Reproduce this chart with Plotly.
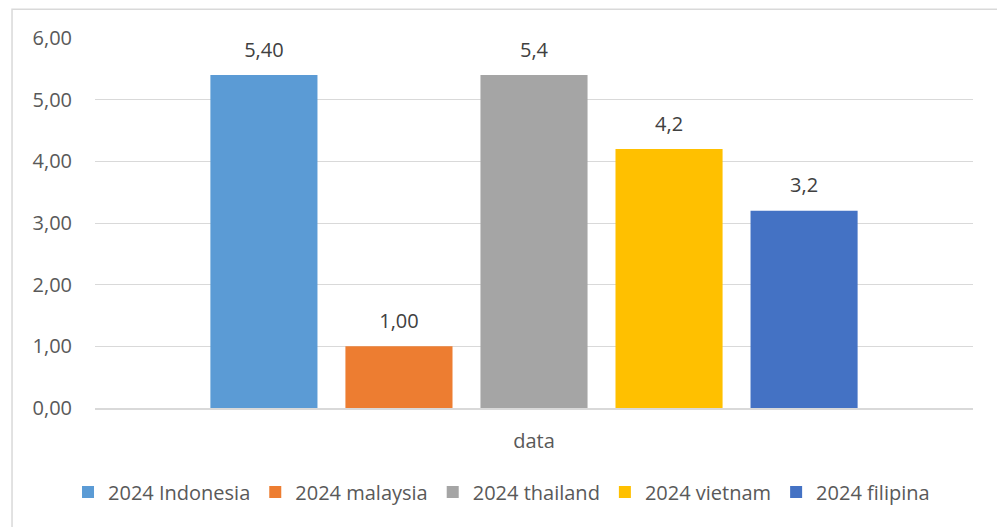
import plotly.graph_objects as go

categories = ["data"]
series_names = ["2024 Indonesia", "2024 malaysia", "2024 thailand", "2024 vietnam", "2024 filipina"]
series_values = [5.40, 1.00, 5.4, 4.2, 3.2]
value_labels = ["5,40", "1,00", "5,4", "4,2", "3,2"]
colors = ["#5B9BD5", "#ED7D31", "#A5A5A5", "#FFC000", "#4472C4"]
y_ticks = [0, 1, 2, 3, 4, 5, 6]

FONT = "'Open Sans', 'Noto Sans', sans-serif"
FS = 20

fig = go.Figure()
for name, val, col in zip(series_names, series_values, colors):
    fig.add_trace(go.Bar(
        x=categories, y=[val], name=name,
        marker=dict(color=col, line=dict(width=0)),
        offsetgroup=name,
        hoverinfo="name+y",
    ))
for name, val, lab in zip(series_names, series_values, value_labels):
    fig.add_trace(go.Scatter(
        x=categories, y=[val], mode="markers+text",
        text=[lab], textposition="top center",
        textfont=dict(size=FS, color="#404040", family=FONT),
        marker=dict(size=20, opacity=0),
        offsetgroup=name, showlegend=False, hoverinfo="skip",
        cliponaxis=False,
    ))

fig.update_layout(
    width=997, height=527,
    margin=dict(l=95, r=24, t=38, b=119, autoexpand=False),
    paper_bgcolor="white", plot_bgcolor="white",
    separators=",.",
    barmode="group", bargap=0.231, bargroupgap=0.207,
    scattermode="group", scattergap=0.231,
    font=dict(family=FONT, size=FS, color="#595959"),
    showlegend=True,
    legend=dict(orientation="h", x=0.463, xanchor="center", y=-0.227, yanchor="middle",
                font=dict(size=FS, color="#595959"), itemwidth=30, traceorder="normal"),
)
fig.update_yaxes(range=[0, 6], tickvals=y_ticks, tickformat=".2f", automargin=False,
                 showgrid=True, gridcolor="#D9D9D9", gridwidth=1.3,
                 zeroline=False, showline=False, ticks="",
                 tickfont=dict(size=FS, color="#595959"), ticklabelstandoff=22)
fig.update_xaxes(showline=True, linecolor="#D9D9D9", linewidth=1.5, automargin=False,
                 showgrid=False, ticks="", ticklabelstandoff=14,
                 tickfont=dict(size=FS, color="#595959"))

fig.add_shape(type="rect", xref="paper", yref="paper",
              x0=-0.0945, x1=1.05, y0=-0.4, y1=1.078,
              line=dict(color="#D9D9D9", width=1.5), fillcolor="rgba(0,0,0,0)", layer="below")

fig.write_html("out.html", config={"displayModeBar": False},
               post_script="document.body.style.margin='0';")
